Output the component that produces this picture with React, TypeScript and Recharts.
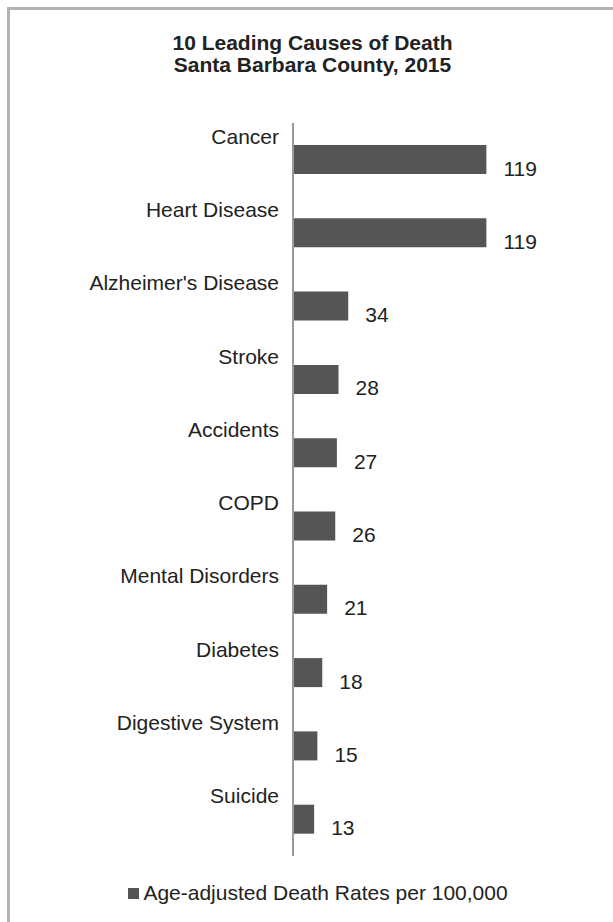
import React from "react";
import { BarChart, Bar, XAxis, YAxis, Legend, LabelList } from "recharts";

const titleLines = ["10 Leading Causes of Death", "Santa Barbara County, 2015"];
const categories = [
  "Cancer",
  "Heart Disease",
  "Alzheimer's Disease",
  "Stroke",
  "Accidents",
  "COPD",
  "Mental Disorders",
  "Diabetes",
  "Digestive System",
  "Suicide",
];
const rates = [119, 119, 34, 28, 27, 26, 21, 18, 15, 13];
const seriesName = "Age-adjusted Death Rates per 100,000";

const data = categories.map((name, i) => ({ name, rate: rates[i] }));

const FONT = "'Liberation Sans', Arial, sans-serif";
const BAR_COLOR = "#555555";
const TEXT_COLOR = "#222222";

const CategoryTick = (props: any) => {
  const { x, y, payload } = props;
  return (
    <text x={x} y={y - 16} textAnchor="end" fontFamily={FONT} fontSize={21} fill={TEXT_COLOR}>
      {payload.value}
    </text>
  );
};

const ValueLabel = (props: any) => {
  const { x, y, width, height, value } = props;
  return (
    <text
      x={x + width + 17}
      y={y + height / 2 + 16}
      textAnchor="start"
      fontFamily={FONT}
      fontSize={21}
      fill={TEXT_COLOR}
    >
      {value}
    </text>
  );
};

const LegendContent = () => (
  <div
    style={{
      display: "flex",
      justifyContent: "center",
      alignItems: "center",
      fontFamily: FONT,
      fontSize: 21,
      color: TEXT_COLOR,
      lineHeight: "24px",
    }}
  >
    <span style={{ display: "inline-block", width: 11, height: 11, background: BAR_COLOR, marginRight: 4 }} />
    <span>{seriesName}</span>
  </div>
);

export default function App() {
  return (
    <div
      style={{
        position: "absolute",
        left: 0,
        top: 0,
        width: 613,
        height: 922,
        overflow: "hidden",
        background: "#ffffff",
      }}
    >
      <div
        style={{
          position: "absolute",
          left: 7,
          top: 7,
          width: 640,
          height: 960,
          border: "3px solid #b3b3b3",
          boxSizing: "border-box",
        }}
      />
      <svg style={{ position: "absolute", left: 0, top: 0 }} width={613} height={100}>
        {titleLines.map((t, i) => (
          <text
            key={t}
            x={312.5}
            y={50 + i * 21.7}
            textAnchor="middle"
            fontFamily={FONT}
            fontSize={21}
            fontWeight="bold"
            fill={TEXT_COLOR}
          >
            {t}
          </text>
        ))}
      </svg>
      <div style={{ position: "absolute", left: 0, top: 0 }}>
        <BarChart
          width={613}
          height={922}
          data={data}
          layout="vertical"
          margin={{ top: 123, right: 27.5, bottom: 66, left: 0 }}
        >
          <XAxis type="number" domain={[0, 180]} hide />
          <YAxis
            type="category"
            dataKey="name"
            width={293}
            interval={0}
            tickLine={false}
            tickSize={0}
            tickMargin={14}
            axisLine={{ stroke: "#9a9a9a", strokeWidth: 2 }}
            tick={<CategoryTick />}
          />
          <Legend
            layout="horizontal"
            verticalAlign="middle"
            align="center"
            content={<LegendContent />}
            wrapperStyle={{ top: 881, left: 0, width: 636 }}
          />
          <Bar dataKey="rate" name={seriesName} fill={BAR_COLOR} barSize={29} isAnimationActive={false}>
            <LabelList dataKey="rate" content={<ValueLabel />} />
          </Bar>
        </BarChart>
      </div>
    </div>
  );
}
